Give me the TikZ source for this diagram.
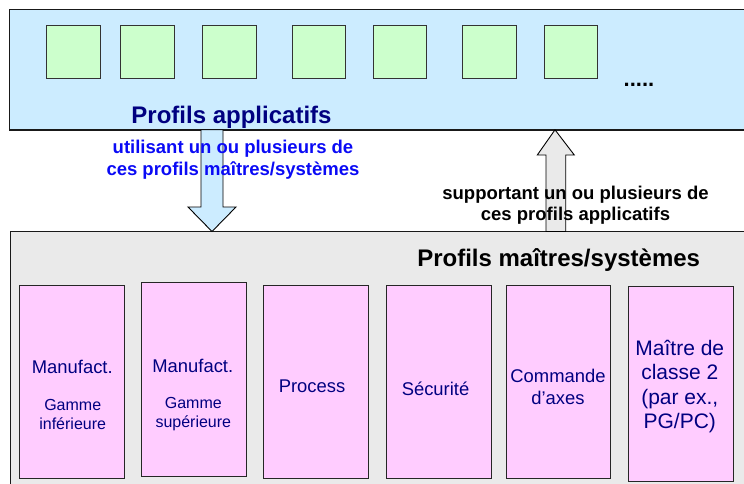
\documentclass[tikz,border=0pt]{standalone}
\usepackage{fontspec}
\setmainfont{Liberation Sans}
\definecolor{appblue}{RGB}{204,236,255}
\definecolor{appgreen}{RGB}{204,255,204}
\definecolor{profpink}{RGB}{255,204,255}
\definecolor{mastgray}{RGB}{234,234,234}
\definecolor{navy}{RGB}{0,0,128}
\definecolor{txtblue}{RGB}{10,10,245}
\begin{document}
\begin{tikzpicture}[x=1pt,y=-1pt,
  every node/.style={inner sep=0pt,outer sep=0pt},
  bigbox/.style={draw=black!90,line width=1.5pt,anchor=north west},
  appbox/.style={draw=black!80,line width=0.8pt,fill=appgreen,minimum width=53.5pt,minimum height=53.3pt},
  profbox/.style={draw=black!85,line width=0.8pt,fill=profpink,minimum width=104.5pt,minimum height=193.7pt},
  title/.style={font=\fontsize{24}{28}\selectfont\bfseries},
  bold/.style={font=\fontsize{18.5}{21.5}\selectfont\bfseries,align=center},
  main/.style={font=\fontsize{18.4}{21.7}\selectfont,text=navy,align=center},
  small/.style={font=\fontsize{16}{19}\selectfont,text=navy,align=center},
  big/.style={font=\fontsize{21}{24.4}\selectfont,text=navy,align=center},
  arrowd/.style={draw=black,line width=0.9pt,fill=appblue,line join=miter},
  arrowu/.style={draw=black,line width=0.9pt,fill=mastgray,line join=miter}
]
\useasboundingbox (0,0) rectangle (744,484);
\clip (0,0) rectangle (744,484);

% big boxes
\node[bigbox,fill=appblue,minimum width=742pt,minimum height=120.3pt] (apps) at (9.3,9.5) {};
\node[bigbox,fill=mastgray,minimum width=742pt,minimum height=262pt] (masters) at (10.5,231.5) {};

% application profiles
\node[appbox] (a1) at (73.5,51.7) {};
\node[appbox] (a2) at (147.4,51.7) {};
\node[appbox] (a3) at (229.5,51.7) {};
\node[appbox] (a4) at (318.8,51.7) {};
\node[appbox] (a5) at (400,51.7) {};
\node[appbox] (a6) at (489.5,51.7) {};
\node[appbox] (a7) at (571,51.7) {};
\node[font=\fontsize{22}{26}\selectfont\bfseries,anchor=base] (dots) at (639,86.5) {.....};
\node[title,text=navy,anchor=base] (appt) at (231.5,124) {Profils applicatifs};

% master profiles
\node[title,anchor=base] (mastt) at (558.7,266.5) {Profils maîtres/systèmes};
\node[profbox] (p1) at (72,381.85) {};
\node[profbox,minimum height=194.4pt] (p2) at (193.7,379.5) {};
\node[profbox,minimum width=105.4pt] (p3) at (316,381.85) {};
\node[profbox,minimum width=105pt] (p4) at (438.5,381.85) {};
\node[profbox,minimum width=103.6pt] (p5) at (558.5,381.85) {};
\node[profbox,minimum width=105pt,minimum height=194.3pt] (p6) at (680.8,383.85) {};

\node[main] (t1) at (72.3,366.7) {Manufact.};
\node[small] (s1) at (72.7,414.5) {Gamme\\inférieure};
\node[main] (t2) at (192.8,365.7) {Manufact.};
\node[small] (s2) at (193.3,414.5) {Gamme\\supérieure};
\node[main] (t3) at (312,386.7) {Process};
\node[main] (t4) at (435.5,389) {Sécurité};
\node[main] (t5) at (558,386.8) {Commande\\d’axes};
\node[big] (t6) at (679.8,386.7) {Maître de\\classe 2\\(par ex.,\\PG/PC)};

% arrows
\draw[arrowd] (201,0 |- apps.south) -- (201,207) -- (188,207) -- (212,0 |- masters.north)
  -- (236,207) -- (223,207) -- (223,0 |- apps.south) -- cycle;
\draw[arrowu] (546,0 |- masters.north) -- (546,155) -- (537.3,155) -- (555,0 |- apps.south)
  -- (574.3,155) -- (565.7,155) -- (565.7,0 |- masters.north) -- cycle;

% arrow labels
\node[bold,text=txtblue] (ldown) at (233,159.7) {utilisant un ou plusieurs de\\ces profils maîtres/systèmes};
\node[bold] (lup) at (575.5,205.3) {supportant un ou plusieurs de\\ces profils applicatifs};
\end{tikzpicture}
\end{document}
